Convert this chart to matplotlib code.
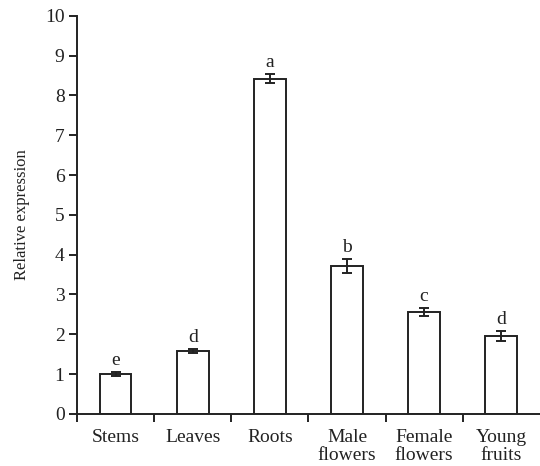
import matplotlib
matplotlib.use("Agg")
import matplotlib.pyplot as plt
import numpy as np

categories = ["Stems", "Leaves", "Roots", "Male\nflowers", "Female\nflowers", "Young\nfruits"]
values = [1.0, 1.58, 8.42, 3.72, 2.56, 1.95]
errors = [0.05, 0.04, 0.12, 0.17, 0.10, 0.13]
letters = ["e", "d", "a", "b", "c", "d"]
yticks = list(range(0, 11))

plt.rcParams['font.family'] = ['Liberation Serif', 'DejaVu Serif']

fig = plt.figure(figsize=(5.4, 4.66), dpi=100)
ax = fig.add_axes([0.1426, 0.112, 0.857, 0.854])
x = np.arange(len(categories))
ax.bar(x, values, width=0.41, color='white', edgecolor='#222222', linewidth=1.4,
       yerr=errors, error_kw=dict(ecolor='#222222', elinewidth=1.4, capsize=3.5, capthick=1.4))
for xi, v, e, l in zip(x, values, errors, letters):
    ax.text(xi, v + e + 0.08, l, ha='center', va='bottom', fontsize=14, color='#222222')

ax.set_xlim(-0.5, 5.5)
ax.set_ylim(0, 10)
ax.set_yticks(yticks)
ax.set_xticks(x)
ax.set_xticklabels(categories, fontsize=14, linespacing=1.05, color='#222222')
ax.set_xticks(np.arange(-0.5, 5.0, 1.0), minor=True)
ax.tick_params(axis='x', which='major', length=0, pad=11)
ax.tick_params(axis='x', which='minor', length=6, width=1.4, direction='out', color='#222222')
ax.tick_params(axis='y', length=6, width=1.4, direction='out', color='#222222', labelsize=14, pad=3, labelcolor='#222222')
for s in ['top', 'right']:
    ax.spines[s].set_visible(False)
for s in ['left', 'bottom']:
    ax.spines[s].set_linewidth(1.4)
    ax.spines[s].set_color('#222222')
ax.set_ylabel("Relative expression", fontsize=12, labelpad=11, color='#222222')
fig.savefig("out.png", dpi=100)
